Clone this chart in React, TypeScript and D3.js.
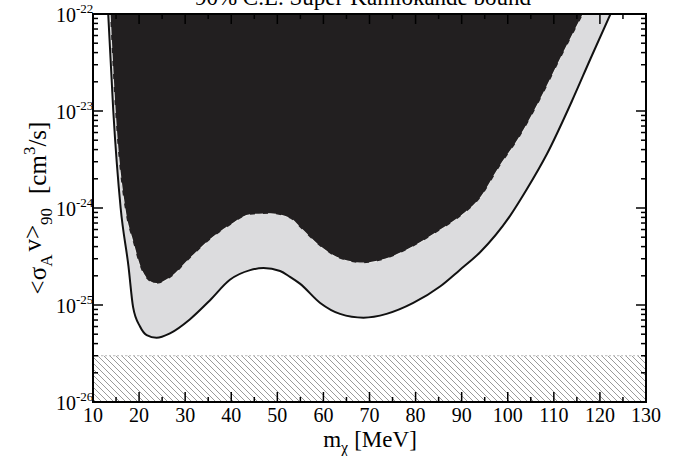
import React from 'react'
import * as d3 from 'd3'

const width = 679
const height = 456
const margin = { top: 14, right: 33, bottom: 54, left: 93 }

// outer 90% C.L. bound (solid line, grey band)
const massOuter = [13.3, 14.4, 16.0, 17.7, 18.7, 20.2, 21.65, 23.8, 26.7, 31.0, 35.4, 39.7, 44.1, 47.0, 50.6, 52.75, 54.9, 59.3, 63.6, 68.7, 73.7, 79.5, 85.3, 89.6, 94.0, 100.5, 104.1, 108.5, 114.0, 118.0, 122.3]
const sigmaOuter = [1e-22, 1e-23, 1e-24, 2.5e-25, 9.5e-26, 6.0e-26, 4.9e-26, 4.6e-26, 5.1e-26, 7.1e-26, 1.12e-25, 1.82e-25, 2.29e-25, 2.4e-25, 2.24e-25, 1.95e-25, 1.66e-25, 1.05e-25, 8.1e-26, 7.4e-26, 8.1e-26, 1.05e-25, 1.55e-25, 2.3e-25, 3.5e-25, 8.3e-25, 1.55e-24, 3.6e-24, 1.29e-23, 3.5e-23, 1e-22]

// inner bound (dashed line, black region)
const massInner = [13.7, 14.8, 16.9, 18.7, 20.2, 22.4, 23.8, 26.7, 31.0, 35.4, 39.7, 44.1, 48.4, 52.75, 54.9, 59.3, 63.6, 68.7, 73.7, 79.5, 85.3, 89.6, 94.0, 98.3, 102.7, 107.0, 111.5, 116.4]
const sigmaInner = [1e-22, 1e-23, 1e-24, 4.4e-25, 2.5e-25, 1.74e-25, 1.66e-25, 1.9e-25, 3.0e-25, 4.7e-25, 6.6e-25, 8.5e-25, 8.7e-25, 7.8e-25, 6.3e-25, 4.0e-25, 3.0e-25, 2.7e-25, 3.0e-25, 4.0e-25, 5.9e-25, 8.1e-25, 1.26e-24, 2.7e-24, 5.5e-24, 1.29e-23, 3.5e-23, 1e-22]

const hatchTop = 3e-26

const xTicks = [10, 20, 30, 40, 50, 60, 70, 80, 90, 100, 110, 120, 130]
const yDecades = [-26, -25, -24, -23, -22]

const x = d3.scaleLinear().domain([10, 130]).range([margin.left, width - margin.right])
const y = d3.scaleLog().domain([1e-26, 1e-22]).range([height - margin.bottom, margin.top])

const line = d3
    .line<[number, number]>()
    .x((d) => x(d[0]))
    .y((d) => y(d[1]))
    .curve(d3.curveMonotoneX)

const outerPts: [number, number][] = massOuter.map((m, i) => [m, sigmaOuter[i]])
const innerPts: [number, number][] = massInner.map((m, i) => [m, sigmaInner[i]])

const serif = 'Liberation Serif'

export default function App() {
    const x0 = x.range()[0]
    const x1 = x.range()[1]
    const yTop = y.range()[1]
    const yBot = y.range()[0]

    const minorX = d3.range(15, 130, 10)
    const minorY: number[] = []
    for (let e = -26; e < -22; e++) {
        for (let k = 2; k <= 9; k++) minorY.push(k * Math.pow(10, e))
    }

    const outerLine = line(outerPts) as string
    const innerLine = line(innerPts) as string

    return (
        <svg
            width={width}
            height={height}
            style={{ position: 'absolute', left: 0, top: 0, background: '#fff' }}
        >
            <defs>
                <clipPath id="plot">
                    <rect x={x0} y={yTop} width={x1 - x0} height={yBot - yTop} />
                </clipPath>
                <pattern id="hatch" patternUnits="userSpaceOnUse" width={6} height={6}>
                    <path d="M0,0 L6,6 M-1,5 L1,7 M5,-1 L7,1" stroke="#555" strokeWidth={0.6} />
                </pattern>
            </defs>

            {/* title, mostly cut off at top */}
            <text x={363} y={5} textAnchor="middle" fontSize={23} fontFamily={serif}>
                90% C.L. Super-Kamiokande bound
            </text>

            <g clipPath="url(#plot)">
                <path d={outerLine + 'Z'} fill="#dcdcde" />
                <path d={innerLine + 'Z'} fill="#221f20" />
                <path d={innerLine} fill="none" stroke="#e6e6e6" strokeWidth={1.2} strokeDasharray="8 5" />
                <path d={outerLine} fill="none" stroke="#111" strokeWidth={2} />
                <rect
                    x={x0}
                    y={y(hatchTop)}
                    width={x1 - x0}
                    height={yBot - y(hatchTop)}
                    fill="url(#hatch)"
                />
                <line x1={x0} x2={x1} y1={y(hatchTop)} y2={y(hatchTop)} stroke="#bbb" strokeDasharray="2 2" />
            </g>

            {/* ticks */}
            <g stroke="#000" strokeWidth={1.5}>
                {xTicks.map((t) => (
                    <g key={'xt' + t}>
                        <line x1={x(t)} x2={x(t)} y1={yBot} y2={yBot - 10} />
                        <line x1={x(t)} x2={x(t)} y1={yTop} y2={yTop + 10} />
                    </g>
                ))}
                {minorX.map((t) => (
                    <g key={'xm' + t}>
                        <line x1={x(t)} x2={x(t)} y1={yBot} y2={yBot - 5} />
                        <line x1={x(t)} x2={x(t)} y1={yTop} y2={yTop + 5} />
                    </g>
                ))}
                {yDecades.map((e) => (
                    <g key={'yt' + e}>
                        <line x1={x0} x2={x0 + 10} y1={y(Math.pow(10, e))} y2={y(Math.pow(10, e))} />
                        <line x1={x1} x2={x1 - 10} y1={y(Math.pow(10, e))} y2={y(Math.pow(10, e))} />
                    </g>
                ))}
                {minorY.map((v, i) => (
                    <g key={'ym' + i}>
                        <line x1={x0} x2={x0 + 5} y1={y(v)} y2={y(v)} />
                        <line x1={x1} x2={x1 - 5} y1={y(v)} y2={y(v)} />
                    </g>
                ))}
            </g>

            <rect x={x0} y={yTop} width={x1 - x0} height={yBot - yTop} fill="none" stroke="#000" strokeWidth={2} />

            {/* x tick labels */}
            {xTicks.map((t) => (
                <text key={'xl' + t} x={x(t)} y={yBot + 20} textAnchor="middle" fontSize={20} fontFamily={serif}>
                    {t}
                </text>
            ))}

            {/* y tick labels */}
            {yDecades.map((e) => (
                <text key={'yl' + e} x={76} y={y(Math.pow(10, e)) + 8} textAnchor="end" fontSize={20} fontFamily={serif}>
                    10
                </text>
            ))}
            {yDecades.map((e) => (
                <text key={'ys' + e} x={76} y={y(Math.pow(10, e)) - 1} textAnchor="start" fontSize={13} fontFamily={serif}>
                    {String(e)}
                </text>
            ))}

            {/* axis titles */}
            <text x={370} y={447} textAnchor="middle" fontSize={23} fontFamily={serif}>
                m
                <tspan fontSize={16} dy={6}>χ</tspan>
                <tspan dy={-6} dx={6}>[MeV]</tspan>
            </text>

            <text transform={`translate(46, 208) rotate(-90)`} textAnchor="middle" fontSize={25} fontFamily={serif}>
                {'<σ'}
                <tspan fontSize={17} dy={6}>A</tspan>
                <tspan dy={-11} dx={3}>v&gt;</tspan>
                <tspan fontSize={17} dy={11}>90</tspan>
                <tspan dy={-6} dx={14}>[cm</tspan>
                <tspan fontSize={17} dy={-11}>3</tspan>
                <tspan dy={11}>/s]</tspan>
            </text>
        </svg>
    )
}
